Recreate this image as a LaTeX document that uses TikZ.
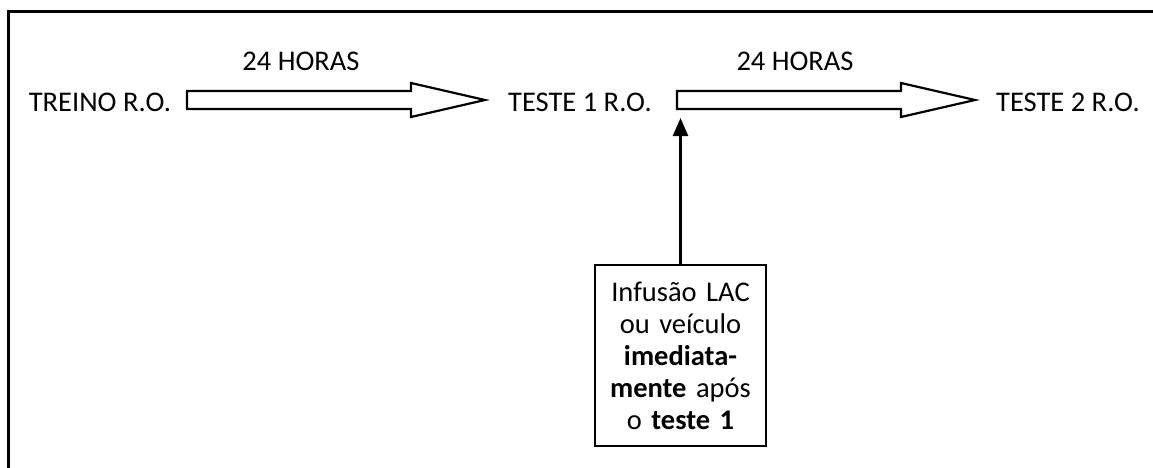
\documentclass[tikz,border=0pt]{standalone}
\usepackage{fontspec}
\setmainfont{Carlito}
\usetikzlibrary{arrows.meta}
\begin{document}
\begin{tikzpicture}[x=1pt,y=-1pt,
  lbl/.style={font=\fontsize{28.5}{32}\selectfont, inner sep=0pt, anchor=base},
  blockarrow/.style={draw=black, line width=2.2pt, fill=white, line join=miter},
  infobox/.style={draw=black, line width=2.2pt, minimum width=171pt, minimum height=181pt,
     text width=168pt, align=center, inner sep=0pt, font=\fontsize{28.5}{32}\selectfont},
  uparrow/.style={line width=2.6pt, -{Triangle[length=18pt,width=15pt]}}]
\useasboundingbox (0,0) rectangle (1153,468);
% frame
\draw[line width=3pt] (8,468) -- (8,12) -- (1153,12);
% text nodes
\node[lbl] (treino) at (100,112) {TREINO R.O.};
\node[lbl] (teste1) at (580,112) {TESTE 1 R.O.};
\node[lbl] (teste2) at (1068,112) {TESTE 2 R.O.};
\node[lbl] (h1) at (301,71) {24 HORAS};
\node[lbl] (h2) at (795,71) {24 HORAS};
% block arrows
\draw[blockarrow] (187,91) -- (411,91) -- (411,83) -- (485,100) -- (411,117) -- (411,109) -- (187,109) -- cycle;
\draw[blockarrow] (677,91) -- (901,91) -- (901,83) -- (975,100) -- (901,117) -- (901,109) -- (677,109) -- cycle;
% info box
\node[infobox] (box) at (680.5,355.5) {Infusão LAC\\ ou veículo\\ \textbf{imediata-}\\ \textbf{mente} após\\ o \textbf{teste 1}};
\coordinate (tip) at (680.5,118);
\draw[uparrow] (box.north) -- (tip);
\end{tikzpicture}
\end{document}
